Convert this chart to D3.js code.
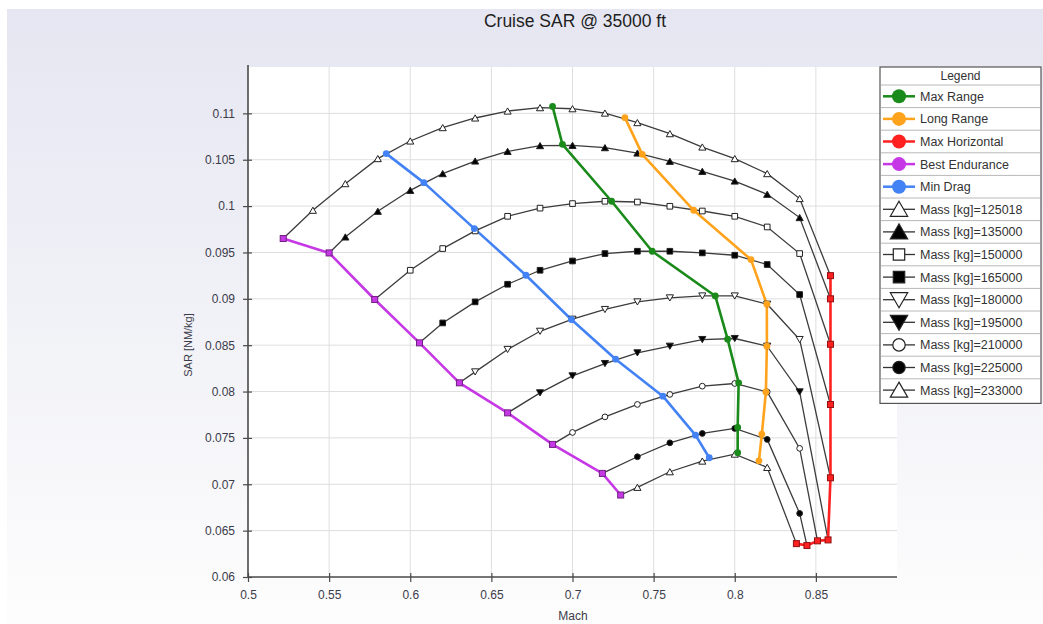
<!DOCTYPE html>
<html>
<head>
<meta charset="utf-8">
<script src="https://cdn.jsdelivr.net/npm/d3@7"></script>
<style>
  html, body { margin: 0; padding: 0; background: #ffffff; }
  svg { display: block; }
  text { font-family: Arial, "Liberation Sans", sans-serif; }
</style>
</head>
<body>
<svg id="chart" width="1043" height="624"></svg>
<script>
// ---------------- DATA ----------------
const title = "Cruise SAR @ 35000 ft";
const xTitle = "Mach";
const yTitle = "SAR [NM/kg]";
const xTicks = [0.5, 0.55, 0.6, 0.65, 0.7, 0.75, 0.8, 0.85];
const yTicks = [0.06, 0.065, 0.07, 0.075, 0.08, 0.085, 0.09, 0.095, 0.1, 0.105, 0.11];

const massLabels = ["Mass [kg]=125018", "Mass [kg]=135000", "Mass [kg]=150000", "Mass [kg]=165000",
  "Mass [kg]=180000", "Mass [kg]=195000", "Mass [kg]=210000", "Mass [kg]=225000", "Mass [kg]=233000"];

// [Mach, SAR] points along each constant-mass curve
const mass125018 = [[0.5217,0.0965],[0.54,0.09955],[0.56,0.10242],[0.58,0.10512],[0.60,0.10702],[0.62,0.10846],
  [0.64,0.1095],[0.66,0.11025],[0.68,0.11061],[0.70,0.1105],[0.72,0.11003],[0.74,0.1090],[0.76,0.10781],
  [0.78,0.10637],[0.80,0.10512],[0.82,0.1035],[0.84,0.10081],[0.859,0.0925]];
const mass135000 = [[0.55,0.09495],[0.56,0.09667],[0.58,0.09944],[0.60,0.1017],[0.62,0.1035],[0.64,0.10486],
  [0.66,0.1059],[0.68,0.10652],[0.70,0.10655],[0.72,0.1063],[0.74,0.10572],[0.76,0.10483],[0.78,0.10375],
  [0.80,0.1027],[0.82,0.10127],[0.84,0.09876],[0.859,0.0900]];
const mass150000 = [[0.5781,0.08993],[0.60,0.09308],[0.62,0.09542],[0.64,0.09732],[0.66,0.0989],[0.68,0.09978],
  [0.70,0.10027],[0.72,0.10052],[0.74,0.10044],[0.76,0.09998],[0.78,0.09947],[0.80,0.0989],[0.82,0.09775],
  [0.84,0.09488],[0.859,0.0851]];
const mass165000 = [[0.6057,0.08525],[0.62,0.0874],[0.64,0.08967],[0.66,0.09157],[0.68,0.09308],[0.70,0.09408],
  [0.72,0.09488],[0.74,0.09513],[0.76,0.09513],[0.78,0.09495],[0.80,0.0947],[0.82,0.0937],[0.84,0.09046],
  [0.859,0.0786]];
const mass180000 = [[0.6303,0.08094],[0.64,0.08212],[0.66,0.08454],[0.68,0.0865],[0.70,0.0878],[0.72,0.08885],
  [0.74,0.08967],[0.76,0.0901],[0.78,0.09031],[0.80,0.09031],[0.82,0.08942],[0.84,0.08561],[0.859,0.0707]];
const mass195000 = [[0.660,0.0777],[0.68,0.07986],[0.70,0.08169],[0.72,0.08302],[0.74,0.08417],[0.76,0.08489],
  [0.78,0.08561],[0.80,0.08572],[0.82,0.08489],[0.84,0.07996],[0.8575,0.0640]];
const mass210000 = [[0.6877,0.0743],[0.70,0.07559],[0.72,0.07727],[0.74,0.07861],[0.76,0.07969],[0.78,0.08058],
  [0.80,0.08087],[0.82,0.07996],[0.84,0.07387],[0.851,0.0639]];
const mass225000 = [[0.7184,0.07117],[0.74,0.07297],[0.76,0.07447],[0.78,0.07548],[0.80,0.07602],[0.82,0.07484],
  [0.84,0.06686],[0.8445,0.0634]];
const mass233000 = [[0.7297,0.06884],[0.74,0.06967],[0.76,0.07135],[0.78,0.0725],[0.80,0.07325],[0.82,0.07182],
  [0.838,0.0636]];

// Special speed schedules
const maxRange = [[0.6877,0.11075],[0.6938,0.10666],[0.7241,0.10052],[0.7491,0.09513],[0.788,0.09031],
  [0.7956,0.08565],[0.8024,0.08094],[0.8018,0.07613],[0.8018,0.0734]];
const longRange = [[0.7323,0.10954],[0.743,0.10558],[0.7747,0.09955],[0.810,0.09423],[0.8198,0.08942],
  [0.8198,0.08489],[0.8192,0.07996],[0.8167,0.07541],[0.8149,0.07253]];
const maxHorizontal = [[0.859,0.0925],[0.859,0.0900],[0.859,0.0851],[0.859,0.0786],[0.859,0.0707],
  [0.8575,0.0640],[0.851,0.0639],[0.8445,0.0634],[0.838,0.0636]];
const bestEndurance = [[0.5217,0.0965],[0.55,0.09495],[0.5781,0.08993],[0.6057,0.08525],[0.6303,0.08094],
  [0.660,0.0777],[0.6877,0.0743],[0.7184,0.07117],[0.7297,0.06884]];
const minDrag = [[0.5852,0.10566],[0.6084,0.10253],[0.6395,0.09757],[0.6713,0.09254],[0.6993,0.08777],
  [0.7266,0.08349],[0.7557,0.0795],[0.7758,0.0753],[0.7843,0.07286]];

const specialNames = ["Max Range", "Long Range", "Max Horizontal", "Best Endurance", "Min Drag"];

// ---------------- CHART ----------------
const svg = d3.select("#chart");
const W = 1043, H = 624;
const plot = { left: 248, top: 67, right: 897, bottom: 577 };

const defs = svg.append("defs");
const grad = defs.append("linearGradient").attr("id", "bg").attr("x1", 0).attr("y1", 0).attr("x2", 0).attr("y2", 1);
grad.append("stop").attr("offset", "0%").attr("stop-color", "#e5e6f1");
grad.append("stop").attr("offset", "100%").attr("stop-color", "#fdfdfd");

svg.append("rect").attr("width", W).attr("height", H).attr("fill", "#ffffff");
svg.append("rect").attr("x", 7).attr("y", 9).attr("width", W - 7).attr("height", H - 9).attr("fill", "url(#bg)");

const x = d3.scaleLinear().domain([0.5, 0.9]).range([plot.left, plot.right]);
const y = d3.scaleLinear().domain([0.06, 0.115]).range([plot.bottom, plot.top]);

svg.append("rect").attr("x", plot.left).attr("y", plot.top)
  .attr("width", plot.right - plot.left).attr("height", plot.bottom - plot.top).attr("fill", "#ffffff");

// grid
const grid = svg.append("g");
grid.selectAll(".vg").data(xTicks.slice(1)).join("line")
  .attr("x1", d => x(d)).attr("x2", d => x(d)).attr("y1", plot.top).attr("y2", plot.bottom)
  .attr("stroke", "#dedede").attr("stroke-width", 1);
grid.selectAll(".hg").data(yTicks.slice(1)).join("line")
  .attr("x1", plot.left).attr("x2", plot.right).attr("y1", d => y(d)).attr("y2", d => y(d))
  .attr("stroke", "#dedede").attr("stroke-width", 1);

// axes
const axisColor = "#4a4a4a";
const xAxis = d3.axisBottom(x).tickValues(xTicks).tickFormat(d3.format("")).tickSize(5).tickPadding(6);
const yAxis = d3.axisLeft(y).tickValues(yTicks).tickFormat(d3.format("")).tickSize(5).tickPadding(8);

const gx = svg.append("g").attr("transform", `translate(0,${plot.bottom})`).call(xAxis);
const gy = svg.append("g").attr("transform", `translate(${plot.left},0)`).call(yAxis);
[gx, gy].forEach(g => {
  g.select(".domain").remove();
  g.selectAll("text").attr("fill", "#3b3b4a").style("font-size", "12px")
    .style("font-family", "Arial, 'Liberation Sans', sans-serif");
  g.selectAll(".tick line").attr("stroke", axisColor).attr("stroke-width", 1.2);
});
gx.selectAll(".tick line").attr("y1", -4).attr("y2", 5);
gy.selectAll(".tick line").attr("x1", 4).attr("x2", -5);
gx.selectAll("text").attr("dy", "0.9em");

svg.append("line").attr("x1", plot.left).attr("x2", plot.left).attr("y1", plot.top - 2).attr("y2", plot.bottom)
  .attr("stroke", axisColor).attr("stroke-width", 1.6);
svg.append("line").attr("x1", plot.left).attr("x2", plot.right).attr("y1", plot.bottom).attr("y2", plot.bottom)
  .attr("stroke", axisColor).attr("stroke-width", 1.6);

// titles
svg.append("text").attr("x", 575).attr("y", 27).attr("text-anchor", "middle")
  .style("font-size", "17.5px").attr("fill", "#1e1e1e").text(title);
svg.append("text").attr("x", 573).attr("y", 620).attr("text-anchor", "middle")
  .style("font-size", "12px").attr("fill", "#3b3b4a").text(xTitle);
svg.append("text").attr("transform", "translate(192,345) rotate(-90)").attr("text-anchor", "middle")
  .style("font-size", "11px").attr("fill", "#3b3b4a").text(yTitle);

// series definitions
const massSeries = [mass125018, mass135000, mass150000, mass165000, mass180000, mass195000, mass210000, mass225000, mass233000];
const massSymbols = [
  { type: d3.symbolTriangle, fill: "#fff", rot: 0 },
  { type: d3.symbolTriangle, fill: "#000", rot: 0 },
  { type: d3.symbolSquare, fill: "#fff", rot: 0 },
  { type: d3.symbolSquare, fill: "#000", rot: 0 },
  { type: d3.symbolTriangle, fill: "#fff", rot: 180 },
  { type: d3.symbolTriangle, fill: "#000", rot: 180 },
  { type: d3.symbolCircle, fill: "#fff", rot: 0 },
  { type: d3.symbolCircle, fill: "#000", rot: 0 },
  { type: d3.symbolTriangle, fill: "#fff", rot: 0 }
];
const specialSeries = [maxRange, longRange, maxHorizontal, bestEndurance, minDrag];
const specialColors = ["#1a8a1a", "#ffa31c", "#ff2020", "#c638e6", "#4282f5"];
const specialShapes = ["circle", "circle", "square", "square", "circle"];

const line = d3.line().x(d => x(d[0])).y(d => y(d[1]));

// mass curve lines
svg.append("g").selectAll("path").data(massSeries).join("path")
  .attr("d", line).attr("fill", "none").attr("stroke", "#3c3c3c").attr("stroke-width", 1.3);

// special lines
svg.append("g").selectAll("path").data(specialSeries).join("path")
  .attr("d", line).attr("fill", "none").attr("stroke", (d, i) => specialColors[i]).attr("stroke-width", 2.6)
  .attr("stroke-linejoin", "round");

// mass markers (interior points)
massSeries.forEach((pts, i) => {
  const s = massSymbols[i];
  const size = s.type === d3.symbolCircle ? 26 : (s.type === d3.symbolSquare ? 32 : 22);
  svg.append("g").selectAll("path").data(pts.slice(1, -1)).join("path")
    .attr("d", d3.symbol().type(s.type).size(size))
    .attr("transform", d => `translate(${x(d[0])},${y(d[1]) + (s.type === d3.symbolTriangle ? (s.rot ? -1 : 1) : 0)}) rotate(${s.rot})`)
    .attr("fill", s.fill).attr("stroke", "#222").attr("stroke-width", 1);
});

// special markers
specialSeries.forEach((pts, i) => {
  const g = svg.append("g");
  if (specialShapes[i] === "circle") {
    g.selectAll("circle").data(pts).join("circle")
      .attr("cx", d => x(d[0])).attr("cy", d => y(d[1])).attr("r", 3.4)
      .attr("fill", specialColors[i]);
  } else {
    g.selectAll("rect").data(pts).join("rect")
      .attr("x", d => x(d[0]) - 3).attr("y", d => y(d[1]) - 3).attr("width", 6).attr("height", 6)
      .attr("fill", specialColors[i]).attr("stroke", d3.color(specialColors[i]).darker(1.6)).attr("stroke-width", 1);
  }
});

// legend
const lg = { x: 880, y: 67, w: 161, titleH: 18, rowH: 22.6 };
const legendItems = specialNames.map((n, i) => ({ name: n, color: specialColors[i], kind: "special" }))
  .concat(massLabels.map((n, i) => ({ name: n, sym: massSymbols[i], kind: "mass" })));
const lgH = lg.titleH + legendItems.length * lg.rowH + 2;
const lgG = svg.append("g");
lgG.append("rect").attr("x", lg.x).attr("y", lg.y).attr("width", lg.w).attr("height", lgH)
  .attr("fill", "#fff").attr("stroke", "#555").attr("stroke-width", 1.2);
lgG.append("text").attr("x", lg.x + lg.w / 2).attr("y", lg.y + 13).attr("text-anchor", "middle")
  .style("font-size", "12px").attr("fill", "#333").text("Legend");
const rows = lgG.selectAll(".row").data(legendItems).join("g")
  .attr("transform", (d, i) => `translate(${lg.x},${lg.y + lg.titleH + i * lg.rowH})`);
rows.append("line").attr("x1", 1).attr("x2", lg.w - 1).attr("y1", 0).attr("y2", 0)
  .attr("stroke", "#b8b8b8").attr("stroke-width", 1);
rows.append("line").attr("x1", 3).attr("x2", 35).attr("y1", lg.rowH / 2).attr("y2", lg.rowH / 2)
  .attr("stroke", d => d.kind === "special" ? d.color : "#333").attr("stroke-width", d => d.kind === "special" ? 2.5 : 1.3);
rows.each(function (d) {
  const g = d3.select(this);
  if (d.kind === "special") {
    g.append("circle").attr("cx", 19).attr("cy", lg.rowH / 2).attr("r", 7).attr("fill", d.color);
  } else {
    const s = d.sym;
    const dy = s.type === d3.symbolTriangle ? (s.rot ? -2 : 2) : 0;
    g.append("path").attr("d", d3.symbol().type(s.type).size(s.type === d3.symbolCircle ? 120 : 130))
      .attr("transform", `translate(19,${lg.rowH / 2 + dy}) rotate(${s.rot})`)
      .attr("fill", s.fill).attr("stroke", "#222").attr("stroke-width", 1.2);
  }
});
rows.append("text").attr("x", 40).attr("y", lg.rowH / 2 + 4.5)
  .style("font-size", "12.5px").attr("fill", "#333").text(d => d.name);
</script>
</body>
</html>
